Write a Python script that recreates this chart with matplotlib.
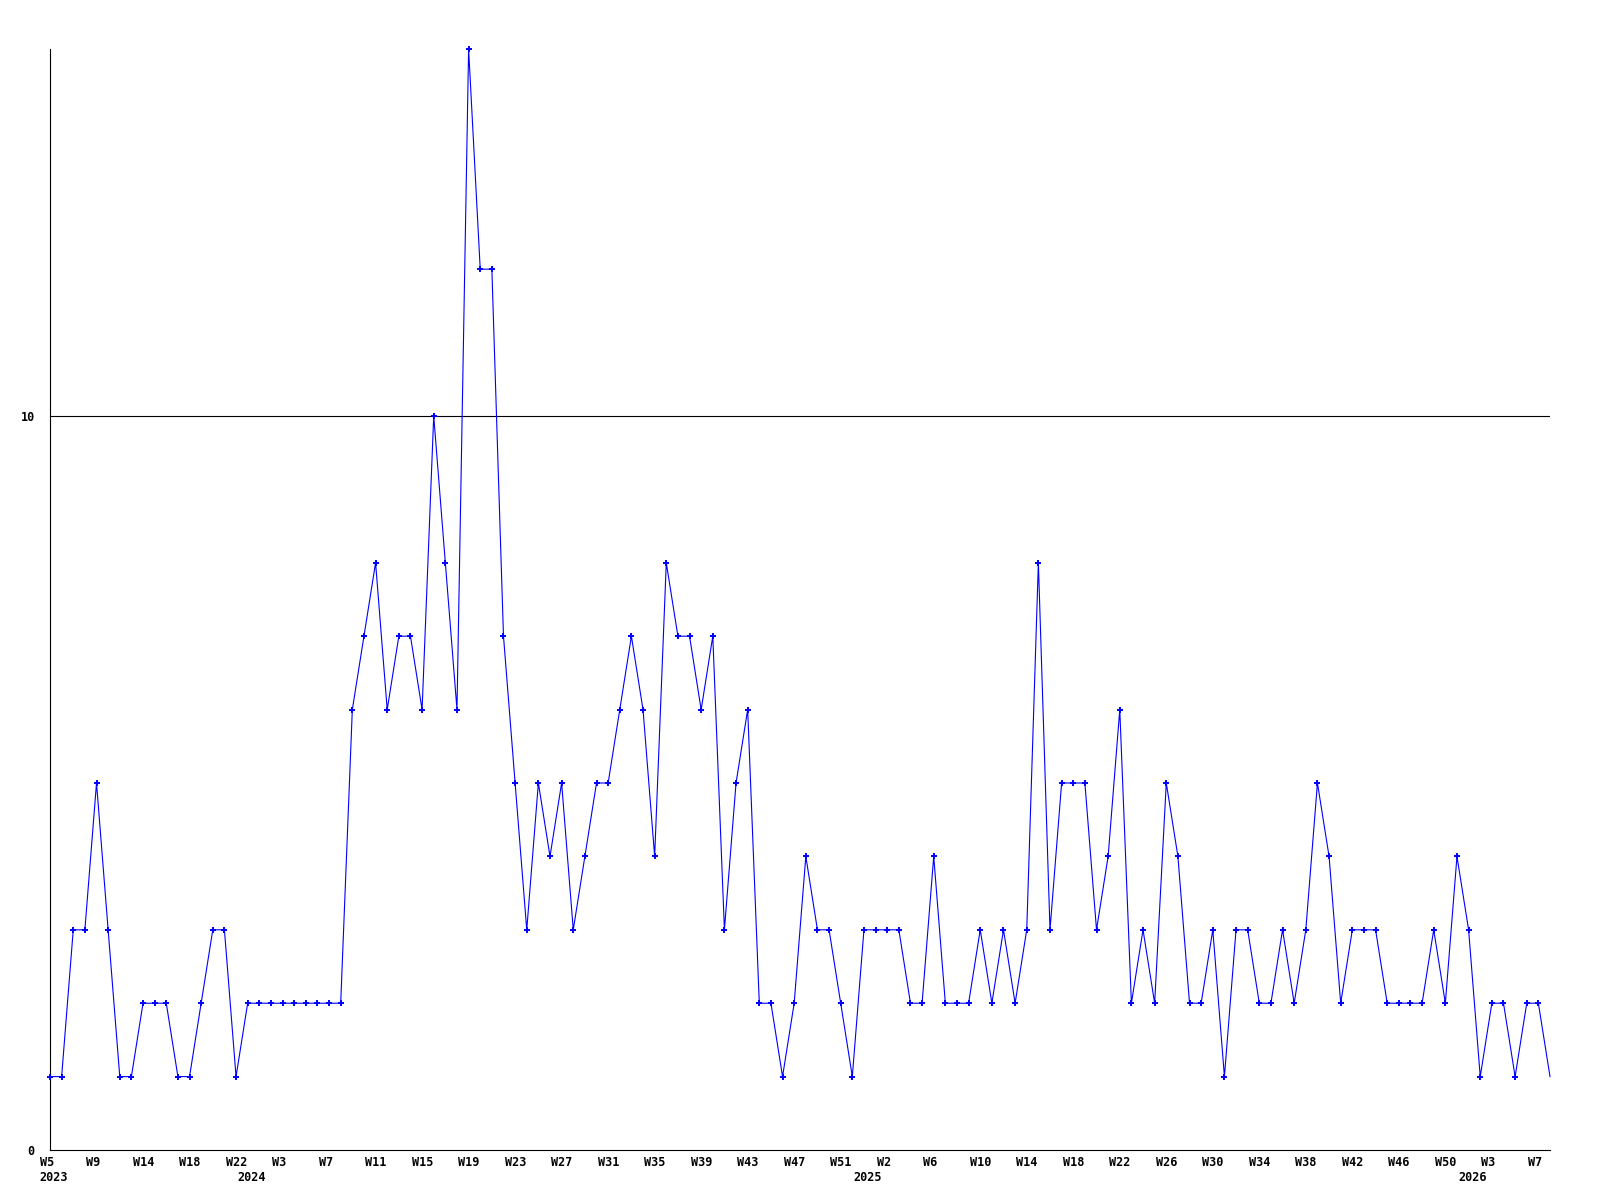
import numpy as np
import matplotlib.pyplot as plt
import matplotlib.transforms as mtransforms

plt.rcParams['font.family'] = 'DejaVu Sans Mono'
plt.rcParams['font.size'] = 8.5
plt.rcParams['font.weight'] = 'bold'

# weekly counts, one per plotted week
values = [1, 1, 3, 3, 5, 3, 1, 1, 2, 2, 2, 1, 1, 2, 3, 3, 1,
          2, 2, 2, 2, 2, 2, 2, 2, 2,
          6, 7, 8, 6, 7, 7, 6, 10, 8, 6, 15, 12, 12, 7, 5,
          3, 5, 4, 5, 3, 4, 5, 5, 6, 7, 6, 4, 8, 7, 7, 6, 7, 3, 5, 6,
          2, 2, 1, 2, 4, 3, 3, 2, 1, 3, 3, 3, 3, 2, 2, 4, 2, 2, 2, 3,
          2, 3, 2, 3, 8, 3, 5, 5, 5, 3, 4, 6, 2, 3, 2, 5, 4, 2, 2, 3,
          1, 3, 3, 2, 2, 3, 2, 3, 5, 4, 2, 3, 3, 3, 2, 2, 2, 2, 3, 2,
          4, 3, 1, 2, 2, 1, 2, 2, 1]

week_labels = ['W5', 'W9', 'W14', 'W18', 'W22', 'W3', 'W7', 'W11', 'W15', 'W19',
               'W23', 'W27', 'W31', 'W35', 'W39', 'W43', 'W47', 'W51', 'W2', 'W6',
               'W10', 'W14', 'W18', 'W22', 'W26', 'W30', 'W34', 'W38', 'W42', 'W46',
               'W50', 'W3', 'W7']
label_step = 4

years = ['2023', '2024', '2025', '2026']
year_start = [0, 17, 70, 122]

fig = plt.figure(figsize=(16, 12), dpi=100)
ax = fig.add_axes([50 / 1600, 50 / 1200, 1500 / 1600, 1101 / 1200])

x = np.arange(len(values))
ax.plot(x, values, color='#0000ff', lw=0.8, marker='+', ms=5, mew=1.4,
        markevery=list(range(len(values) - 1)), clip_on=False, zorder=3)
ax.axhline(10, color='black', lw=0.8, zorder=2)

ax.set_xlim(0, len(values) - 1)
ax.set_ylim(0, 15)
for s in ['top', 'right']:
    ax.spines[s].set_visible(False)
for s in ['left', 'bottom']:
    ax.spines[s].set_linewidth(0.8)

ax.set_xticks([])
ax.set_yticks([0, 10])
ax.tick_params(axis='y', length=0, pad=11)

# week and year labels, left aligned a bit before their point
trans = ax.get_xaxis_transform()
shift = mtransforms.offset_copy(trans, fig=fig, x=-10.5, y=-6, units='dots')
for i, lab in enumerate(week_labels):
    ax.text(i * label_step, 0, lab, transform=shift, ha='left', va='top')
shift2 = mtransforms.offset_copy(trans, fig=fig, x=-10.5, y=-21, units='dots')
for pos, lab in zip(year_start, years):
    ax.text(pos, 0, lab, transform=shift2, ha='left', va='top')

plt.savefig('out.png', dpi=100)
